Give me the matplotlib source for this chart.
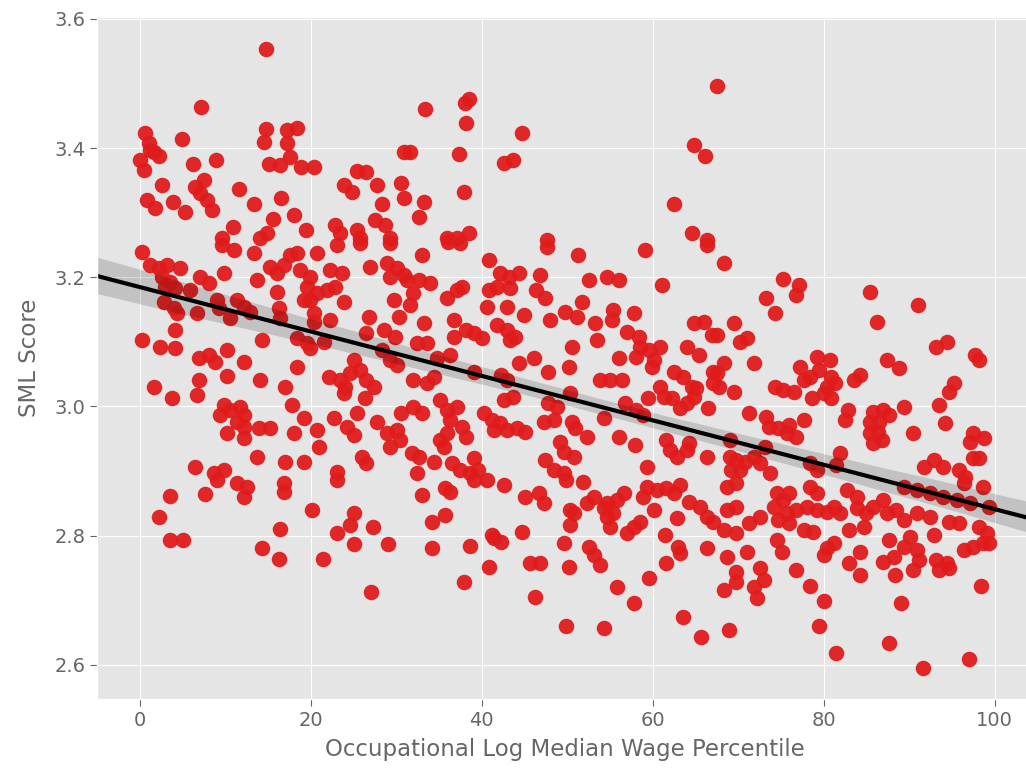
import matplotlib
matplotlib.use("Agg")
import matplotlib.pyplot as plt
import numpy as np
import seaborn as sns

# (wage percentile, SML score), grouped by region
pts_top_left = [
    (14.7, 3.554), (7.1, 3.464), (0.6, 3.424), (4.9, 3.414), (1.1, 3.408), (1.2, 3.397),
    (0.0, 3.382), (0.5, 3.366), (2.2, 3.388), (1.6, 3.394), (6.2, 3.376), (8.9, 3.382),
    (14.7, 3.430), (14.5, 3.410), (17.2, 3.428), (18.4, 3.431), (17.2, 3.408), (15.1, 3.376),
    (16.4, 3.374), (17.5, 3.386), (18.9, 3.371), (20.4, 3.371), (2.6, 3.343), (0.8, 3.320),
    (1.8, 3.307), (3.9, 3.317), (5.3, 3.301), (6.4, 3.340), (7.5, 3.351), (7.0, 3.331),
    (7.8, 3.320), (8.4, 3.304), (11.6, 3.337), (13.3, 3.314), (16.5, 3.323), (18.0, 3.297),
    (15.6, 3.290), (19.4, 3.273), (10.9, 3.278), (14.9, 3.269), (14.0, 3.261), (9.6, 3.261),
    (23.9, 3.343), (24.8, 3.332), (25.4, 3.365), (26.5, 3.363), (27.7, 3.343), (28.3, 3.314),
    (27.5, 3.289), (28.7, 3.281), (22.8, 3.281), (23.4, 3.269), (25.4, 3.273), (25.7, 3.261),
    (30.9, 3.394), (30.6, 3.346), (30.9, 3.323), (29.2, 3.261),
]

pts_top_mid = [
    (33.3, 3.461), (38.5, 3.476), (38.0, 3.470), (38.2, 3.439), (31.6, 3.394), (37.3, 3.391),
    (44.7, 3.424), (42.6, 3.377), (43.7, 3.382), (37.9, 3.332), (33.2, 3.317), (32.6, 3.293),
    (35.9, 3.261), (37.1, 3.261), (38.5, 3.269), (47.6, 3.258), (67.5, 3.496), (64.8, 3.405),
    (66.1, 3.388), (62.5, 3.314), (64.6, 3.269), (66.3, 3.258),
]

pts_mid_left = [
    (0.2, 3.239), (1.2, 3.219), (2.2, 3.215), (3.2, 3.219), (4.7, 3.215), (2.6, 3.201),
    (3.5, 3.193), (2.9, 3.185), (4.1, 3.184), (5.8, 3.180), (7.0, 3.201), (8.1, 3.191),
    (9.8, 3.207), (9.6, 3.250), (11.0, 3.242), (13.3, 3.238), (13.7, 3.196), (15.2, 3.216),
    (16.0, 3.207), (16.8, 3.219), (17.5, 3.235), (18.4, 3.238), (20.7, 3.238), (18.7, 3.211),
    (19.9, 3.201), (19.5, 3.185), (20.7, 3.176), (19.9, 3.165), (19.2, 3.165), (22.2, 3.211),
    (23.6, 3.207), (21.9, 3.180), (22.8, 3.185), (23.9, 3.162), (16.0, 3.177), (16.3, 3.153),
    (16.4, 3.137), (20.4, 3.145), (20.4, 3.131), (22.2, 3.134), (9.0, 3.165), (9.2, 3.153),
    (11.3, 3.165), (12.2, 3.154), (12.9, 3.146), (10.5, 3.137), (6.7, 3.145), (2.8, 3.162),
    (4.0, 3.153), (4.3, 3.145), (4.1, 3.119), (0.2, 3.103), (2.3, 3.092), (4.1, 3.091),
    (14.3, 3.103), (18.4, 3.106), (19.5, 3.098), (19.9, 3.091), (21.5, 3.100), (6.9, 3.075),
    (8.1, 3.080), (8.8, 3.069), (10.2, 3.088), (12.2, 3.069), (18.4, 3.061), (1.6, 3.030),
    (3.7, 3.013), (6.9, 3.041), (6.7, 3.018), (10.2, 3.047), (14.0, 3.041), (17.0, 3.030),
    (22.1, 3.046), (23.4, 3.041), (24.0, 3.030), (24.6, 3.052), (25.0, 3.072), (25.7, 3.057),
    (26.5, 3.041), (27.4, 3.030), (23.9, 3.021), (26.3, 3.013), (29.2, 3.072), (30.1, 3.064),
    (26.9, 3.216), (28.9, 3.222), (30.1, 3.215), (29.2, 3.201), (30.9, 3.204), (29.7, 3.165),
    (30.3, 3.139), (26.8, 3.139), (26.5, 3.114), (28.5, 3.119), (29.8, 3.108), (28.3, 3.088),
    (23.0, 3.250), (25.7, 3.253), (29.2, 3.253), (9.8, 3.002), (10.5, 2.995), (11.7, 2.999),
    (12.2, 2.987), (9.4, 2.987), (11.3, 2.976), (12.2, 2.968), (10.2, 2.959), (12.2, 2.951),
    (13.9, 2.967), (15.2, 2.967), (17.8, 3.002), (19.2, 2.982), (20.7, 2.964), (18.0, 2.959),
    (20.9, 2.937), (22.7, 2.982), (24.2, 2.968), (25.1, 2.956), (25.4, 2.990), (27.7, 2.976),
    (28.9, 2.959), (30.1, 2.964), (30.6, 2.990), (29.2, 2.937), (30.4, 2.948), (13.7, 2.922),
    (17.0, 2.914), (19.2, 2.914), (6.4, 2.906), (9.8, 2.902), (8.7, 2.897), (23.0, 2.899),
    (26.0, 2.922), (26.5, 2.913),
]

pts_mid_center = [
    (33.0, 3.235), (36.1, 3.255), (37.4, 3.253), (40.8, 3.227), (42.1, 3.207), (43.2, 3.201),
    (44.4, 3.207), (43.3, 3.184), (41.8, 3.185), (40.9, 3.180), (46.8, 3.204), (46.4, 3.180),
    (47.4, 3.168), (47.6, 3.247), (51.3, 3.235), (59.1, 3.242), (66.3, 3.250), (52.5, 3.196),
    (54.6, 3.201), (56.0, 3.196), (61.1, 3.188), (51.7, 3.162), (40.6, 3.154), (42.9, 3.154),
    (44.9, 3.142), (48.0, 3.134), (49.7, 3.146), (51.1, 3.139), (53.2, 3.129), (55.4, 3.149),
    (55.2, 3.134), (57.8, 3.145), (53.5, 3.103), (50.5, 3.092), (57.0, 3.115), (58.4, 3.108),
    (58.5, 3.092), (59.6, 3.088), (60.8, 3.092), (60.2, 3.072), (59.9, 3.061), (58.1, 3.077),
    (56.1, 3.075), (64.0, 3.092), (65.4, 3.080), (64.8, 3.129), (66.0, 3.131), (66.9, 3.111),
    (31.2, 3.196), (32.7, 3.196), (33.9, 3.191), (32.0, 3.176), (31.6, 3.157), (35.9, 3.168),
    (37.1, 3.180), (37.7, 3.185), (33.2, 3.129), (36.7, 3.134), (36.7, 3.108), (38.2, 3.119),
    (39.1, 3.114), (40.0, 3.106), (32.4, 3.098), (33.6, 3.098), (34.7, 3.075), (36.3, 3.080),
    (41.8, 3.126), (42.9, 3.119), (43.3, 3.103), (43.9, 3.108), (44.3, 3.067), (46.1, 3.075),
    (47.8, 3.054), (50.2, 3.061), (50.3, 3.021), (53.8, 3.041), (55.0, 3.041), (56.4, 3.041),
    (42.3, 3.049), (42.9, 3.041), (39.1, 3.054), (32.0, 3.041), (33.6, 3.036), (34.4, 3.046),
    (35.1, 3.010), (35.9, 2.995), (37.1, 2.999), (36.3, 2.979), (37.7, 2.968), (38.2, 2.953),
    (35.9, 2.959), (35.1, 2.948), (35.6, 2.937), (32.0, 2.999), (33.0, 2.990), (40.2, 2.990),
    (41.2, 2.979), (42.1, 2.975), (41.4, 2.964), (42.9, 2.964), (44.1, 2.967), (45.0, 2.961),
    (42.6, 3.010), (43.7, 3.015), (47.3, 2.976), (48.4, 2.979), (48.8, 2.999), (47.8, 3.006),
    (50.5, 2.976), (50.9, 2.967), (52.3, 2.953), (54.3, 2.982), (56.1, 2.953), (57.9, 2.941),
    (56.7, 3.006), (58.1, 2.995), (58.9, 2.987), (59.5, 3.013), (60.8, 3.030), (61.3, 3.015),
    (62.5, 3.054), (63.6, 3.046), (62.2, 3.013), (63.2, 2.998), (64.0, 3.006), (64.8, 3.015),
    (64.6, 3.030), (66.5, 2.998), (67.1, 3.054), (67.1, 3.036), (65.1, 3.029), (61.6, 2.948),
    (62.0, 2.933), (62.8, 2.922), (64.0, 2.933), (64.2, 2.944), (66.3, 2.922), (31.8, 2.928),
    (32.7, 2.922), (34.4, 2.914), (36.5, 2.913), (37.4, 2.902), (39.1, 2.920), (39.6, 2.902),
    (38.6, 2.897), (32.4, 2.897), (47.4, 2.917), (48.5, 2.902), (49.6, 2.897), (49.1, 2.945),
    (49.6, 2.930), (50.8, 2.922), (59.3, 2.906),
]

pts_mid_right = [
    (68.3, 3.222), (75.3, 3.198), (77.1, 3.188), (76.8, 3.173), (73.3, 3.168), (74.3, 3.145),
    (85.4, 3.177), (86.2, 3.131), (91.1, 3.157), (69.5, 3.129), (67.5, 3.111), (70.2, 3.100),
    (71.0, 3.106), (93.2, 3.092), (94.4, 3.100), (97.7, 3.080), (98.2, 3.072), (71.8, 3.067),
    (68.3, 3.067), (67.5, 3.052), (67.7, 3.030), (69.5, 3.023), (74.3, 3.030), (75.3, 3.026),
    (76.5, 3.023), (77.2, 3.061), (77.7, 3.041), (78.4, 3.046), (79.2, 3.077), (79.5, 3.057),
    (80.7, 3.072), (80.9, 3.046), (80.4, 3.030), (81.3, 3.036), (78.6, 3.013), (80.9, 3.013),
    (80.0, 3.021), (83.5, 3.041), (84.2, 3.049), (87.4, 3.072), (88.8, 3.060), (95.2, 3.036),
    (94.7, 3.023), (71.3, 2.990), (73.3, 2.984), (73.6, 2.968), (74.7, 2.967), (75.9, 2.971),
    (76.8, 2.953), (77.7, 2.979), (75.7, 2.959), (82.9, 2.995), (82.5, 2.979), (85.8, 2.992),
    (87.0, 2.995), (87.6, 2.987), (85.4, 2.976), (86.5, 2.976), (86.4, 2.961), (85.4, 2.959),
    (85.8, 2.944), (86.8, 2.948), (89.4, 2.999), (93.5, 3.002), (90.5, 2.959), (94.2, 2.975),
    (97.5, 2.959), (97.1, 2.945), (98.8, 2.951), (97.5, 2.920), (98.2, 2.920), (69.0, 2.948),
    (73.1, 2.937), (69.0, 2.922), (69.8, 2.917), (70.8, 2.914), (71.8, 2.922), (72.5, 2.913),
    (69.2, 2.902), (70.2, 2.902), (81.9, 2.928), (81.5, 2.910), (78.4, 2.913), (79.2, 2.902),
    (91.7, 2.906), (92.9, 2.917), (94.0, 2.906), (95.9, 2.902), (96.5, 2.891), (73.7, 2.897),
]

pts_low_left = [
    (9.0, 2.886), (11.3, 2.882), (12.5, 2.876), (12.2, 2.860), (16.8, 2.882), (16.8, 2.868),
    (3.5, 2.862), (7.6, 2.865), (2.2, 2.829), (3.5, 2.793), (5.0, 2.793), (16.4, 2.811),
    (14.3, 2.781), (16.3, 2.764), (20.1, 2.840), (21.4, 2.764), (23.0, 2.886), (25.0, 2.835),
    (24.6, 2.817), (23.0, 2.804), (27.3, 2.814), (25.0, 2.787), (29.0, 2.787), (27.0, 2.713),
]

pts_low_center = [
    (33.0, 2.863), (35.7, 2.874), (36.3, 2.868), (34.2, 2.821), (35.7, 2.832), (34.2, 2.781),
    (38.6, 2.784), (37.9, 2.728), (40.8, 2.752), (41.2, 2.801), (42.3, 2.790), (41.4, 2.797),
    (44.7, 2.806), (39.1, 2.886), (40.6, 2.886), (42.6, 2.879), (45.0, 2.860), (46.7, 2.866),
    (47.3, 2.851), (45.6, 2.758), (46.8, 2.758), (46.2, 2.705), (49.6, 2.789), (50.2, 2.752),
    (49.9, 2.660), (54.3, 2.657), (50.3, 2.840), (50.8, 2.835), (50.3, 2.817), (52.3, 2.851),
    (53.1, 2.860), (49.9, 2.886), (51.9, 2.883), (52.6, 2.783), (53.1, 2.770), (53.8, 2.755),
    (54.3, 2.843), (54.6, 2.829), (55.0, 2.814), (55.4, 2.835), (55.8, 2.855), (56.6, 2.866),
    (54.6, 2.851), (57.0, 2.804), (57.8, 2.814), (58.5, 2.821), (55.8, 2.721), (57.8, 2.696),
    (59.6, 2.735), (58.9, 2.860), (59.3, 2.876), (60.1, 2.840), (60.5, 2.871), (61.6, 2.874),
    (62.5, 2.866), (63.2, 2.879), (61.4, 2.801), (63.0, 2.783), (63.2, 2.773), (61.6, 2.758),
    (62.8, 2.828), (64.3, 2.852), (65.5, 2.845), (66.3, 2.829), (67.1, 2.821), (66.3, 2.781),
    (63.6, 2.674), (65.7, 2.643),
]

pts_low_right = [
    (68.7, 2.876), (69.8, 2.882), (68.7, 2.840), (69.8, 2.845), (68.3, 2.809), (69.8, 2.804),
    (71.3, 2.820), (72.5, 2.829), (74.5, 2.866), (75.3, 2.855), (76.0, 2.866), (75.7, 2.835),
    (74.7, 2.824), (76.0, 2.820), (74.2, 2.845), (76.8, 2.840), (78.4, 2.876), (79.2, 2.866),
    (78.0, 2.845), (79.2, 2.840), (80.4, 2.837), (77.7, 2.809), (78.8, 2.806), (81.2, 2.845),
    (81.9, 2.835), (82.7, 2.871), (83.9, 2.860), (83.9, 2.843), (85.0, 2.835), (85.8, 2.845),
    (87.0, 2.855), (87.4, 2.835), (88.5, 2.840), (89.4, 2.824), (84.7, 2.814), (83.0, 2.809),
    (89.4, 2.876), (90.9, 2.871), (92.4, 2.866), (94.0, 2.860), (95.6, 2.855), (97.1, 2.851),
    (98.7, 2.876), (99.4, 2.845), (96.4, 2.882), (90.9, 2.835), (92.4, 2.829), (94.7, 2.821),
    (95.9, 2.820), (98.2, 2.814), (99.1, 2.804), (98.7, 2.789), (97.5, 2.783), (96.4, 2.778),
    (99.4, 2.789), (92.9, 2.801), (87.7, 2.793), (89.4, 2.783), (90.1, 2.798), (90.9, 2.778),
    (91.2, 2.763), (90.5, 2.747), (87.0, 2.759), (88.2, 2.767), (88.3, 2.739), (93.2, 2.763),
    (94.4, 2.758), (94.7, 2.750), (93.5, 2.747), (84.2, 2.775), (83.0, 2.758), (84.2, 2.739),
    (80.4, 2.781), (81.2, 2.789), (80.0, 2.770), (74.5, 2.793), (75.1, 2.775), (76.8, 2.747),
    (78.4, 2.722), (80.0, 2.699), (79.5, 2.660), (81.5, 2.619), (87.7, 2.634), (89.1, 2.696),
    (91.6, 2.595), (97.0, 2.609), (98.4, 2.722), (68.7, 2.767), (71.0, 2.775), (69.8, 2.744),
    (69.8, 2.728), (72.5, 2.750), (73.0, 2.732), (71.8, 2.721), (72.2, 2.704), (68.3, 2.716),
    (68.9, 2.654),
]

all_pts = (pts_top_left + pts_top_mid + pts_mid_left + pts_mid_center + pts_mid_right
           + pts_low_left + pts_low_center + pts_low_right)
wage_pct = np.array([p[0] for p in all_pts])
sml_score = np.array([p[1] for p in all_pts])

plt.style.use("ggplot")
plt.rcParams["font.family"] = ["DejaVu Sans"]

fig = plt.figure(figsize=(10.26, 7.75), dpi=100)
ax = fig.add_axes([0.0948, 0.098, 0.912, 0.880])

ax.set_xlim(-5, 104.5)
sns.regplot(x=wage_pct, y=sml_score, ax=ax, seed=0, truncate=False,
            scatter_kws={"s": 125, "color": "#e01b1b", "alpha": 0.95, "linewidths": 0},
            line_kws={"color": "black", "lw": 3})

ax.set_xlim(-5, 104.5)
ax.set_ylim(2.547, 3.603)
ax.set_xticks([0, 20, 40, 60, 80, 100])
ax.set_yticks([2.6, 2.8, 3.0, 3.2, 3.4, 3.6])
ax.tick_params(labelsize=14, colors="#666666", labelcolor="#666666", length=5)
ax.set_xlabel("Occupational Log Median Wage Percentile", fontsize=16.5, color="#666666", labelpad=6)
ax.set_ylabel("SML Score", fontsize=16.5, color="#666666", labelpad=10)

fig.savefig("out.png", dpi=100)
